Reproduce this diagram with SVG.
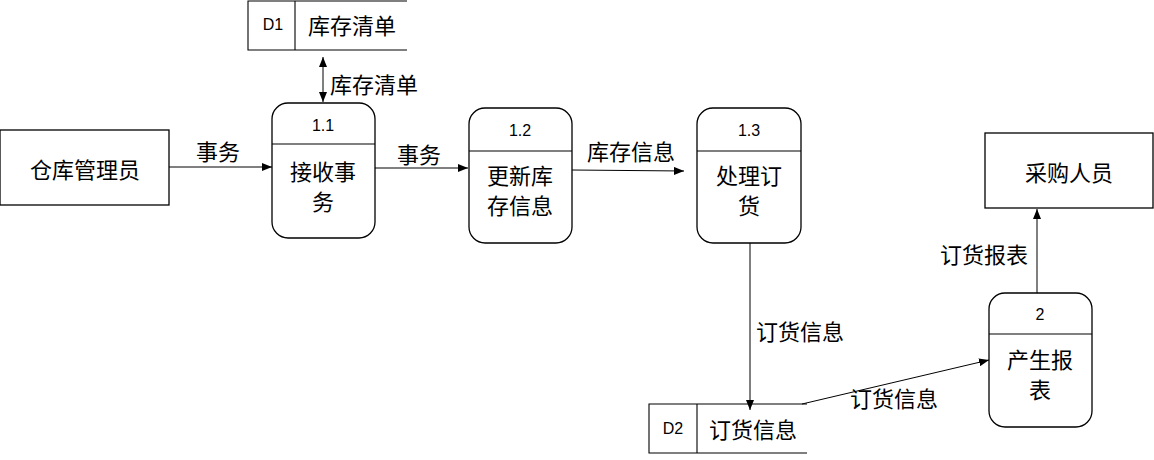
<svg xmlns="http://www.w3.org/2000/svg" width="1154" height="460" viewBox="0 0 1154 460">
<style>
.s{fill:#fff;stroke:#000;stroke-width:1.3}
.l{fill:none;stroke:#000;stroke-width:1.1}
.c{stroke:#000;stroke-width:1}
.t{font-family:"Noto Sans CJK SC","Liberation Sans",sans-serif;font-size:22px;fill:#000;text-anchor:middle;dominant-baseline:central}
.n{font-family:"Liberation Sans","Noto Sans CJK SC",sans-serif;font-size:16px;fill:#000;text-anchor:middle;dominant-baseline:central}
</style>
<defs>
<marker id="a" markerWidth="10" markerHeight="8" refX="10" refY="4" orient="auto" markerUnits="userSpaceOnUse"><path d="M0,0 L10,4 L0,8 Z" fill="#000"/></marker>
<marker id="b" markerWidth="10" markerHeight="8" refX="0" refY="4" orient="auto" markerUnits="userSpaceOnUse"><path d="M10,0 L0,4 L10,8 Z" fill="#000"/></marker>
</defs>
<g id="connectors">
<line class="c" x1="169" y1="167" x2="272" y2="167" marker-end="url(#a)"/>
<line class="c" x1="375" y1="168" x2="468" y2="168" marker-end="url(#a)"/>
<line class="c" x1="572" y1="170" x2="684" y2="171" marker-end="url(#a)"/>
<line class="c" x1="323" y1="57" x2="323" y2="102" marker-start="url(#b)" marker-end="url(#a)"/>
<line class="c" x1="750" y1="243" x2="750" y2="410" marker-end="url(#a)"/>
<line class="c" x1="802" y1="404" x2="989" y2="360" marker-end="url(#a)"/>
<line class="c" x1="1037" y1="293" x2="1037" y2="209" marker-end="url(#a)"/>
<text class="t" x="218" y="150">事务</text>
<text class="t" x="419" y="153">事务</text>
<text class="t" x="631" y="150">库存信息</text>
<text class="t" x="374" y="83">库存清单</text>
<text class="t" x="800" y="330">订货信息</text>
<text class="t" x="894" y="397">订货信息</text>
<text class="t" x="984" y="253">订货报表</text>
</g>
<g id="warehouse-manager">
<rect class="s" x="0" y="130" width="169" height="75"/>
<text class="t" x="85" y="168">仓库管理员</text>
</g>
<g id="purchaser">
<rect class="s" x="985" y="133" width="168" height="75"/>
<text class="t" x="1069" y="171">采购人员</text>
</g>
<g id="D1">
<path class="l" d="M407,1 H248 V50 H407 M295,1 V50"/>
<text class="n" x="273" y="24">D1</text>
<text class="t" x="352" y="24">库存清单</text>
</g>
<g id="D2">
<path class="l" d="M807,404 H649 V453 H807 M697,404 V453"/>
<text class="n" x="673" y="428">D2</text>
<text class="t" x="753" y="428">订货信息</text>
</g>
<g id="p1-1">
<rect class="s" x="272" y="103" width="103" height="135" rx="16"/>
<line class="l" x1="272" y1="144" x2="375" y2="144"/>
<text class="n" x="323" y="125">1.1</text>
<text class="t" x="323" y="170">接收事</text>
<text class="t" x="323" y="200">务</text>
</g>
<g id="p1-2">
<rect class="s" x="469" y="108" width="103" height="135" rx="16"/>
<line class="l" x1="469" y1="151" x2="572" y2="151"/>
<text class="n" x="520" y="130">1.2</text>
<text class="t" x="520" y="174">更新库</text>
<text class="t" x="520" y="204">存信息</text>
</g>
<g id="p1-3">
<rect class="s" x="697" y="108" width="104" height="135" rx="16"/>
<line class="l" x1="697" y1="151" x2="801" y2="151"/>
<text class="n" x="749" y="130">1.3</text>
<text class="t" x="749" y="174">处理订</text>
<text class="t" x="749" y="204">货</text>
</g>
<g id="p2">
<rect class="s" x="989" y="293" width="103" height="134" rx="16"/>
<line class="l" x1="989" y1="334" x2="1092" y2="334"/>
<text class="n" x="1040" y="314">2</text>
<text class="t" x="1040" y="358">产生报</text>
<text class="t" x="1040" y="388">表</text>
</g>
</svg>
